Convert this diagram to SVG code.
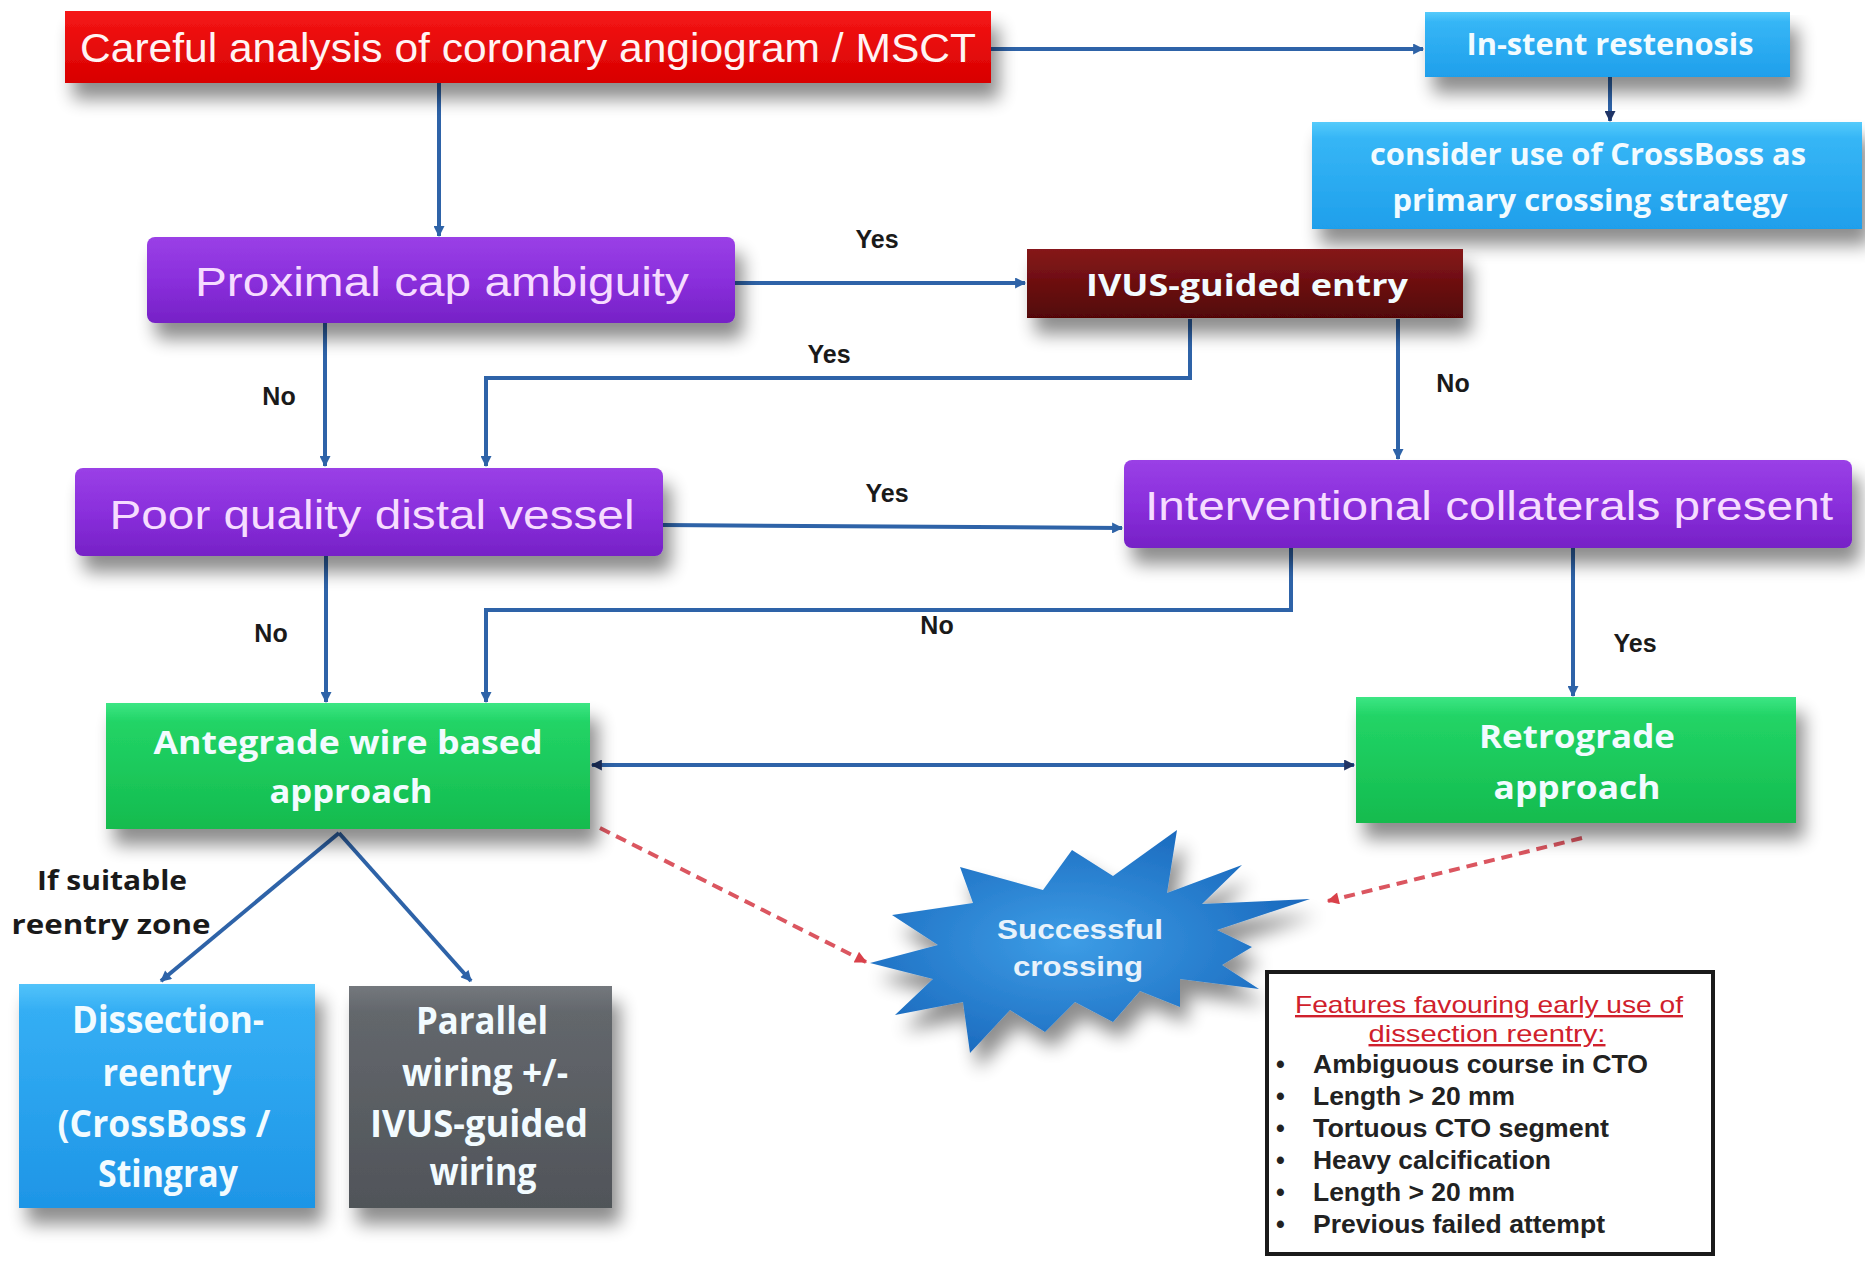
<svg xmlns="http://www.w3.org/2000/svg" width="1865" height="1261" viewBox="0 0 1865 1261">
<defs>
  <filter id="sh" x="-10%" y="-20%" width="130%" height="170%">
    <feGaussianBlur in="SourceAlpha" stdDeviation="9"/>
    <feOffset dx="8" dy="16" result="b"/>
    <feComponentTransfer><feFuncA type="linear" slope="0.45"/></feComponentTransfer>
    <feMerge><feMergeNode/><feMergeNode in="SourceGraphic"/></feMerge>
  </filter>
  <linearGradient id="gRed" x1="0" y1="0" x2="0" y2="1"><stop offset="0" stop-color="#f51616"/><stop offset="1" stop-color="#d80000"/></linearGradient>
  <linearGradient id="gPur" x1="0" y1="0" x2="0" y2="1"><stop offset="0" stop-color="#9a40e6"/><stop offset="0.5" stop-color="#8a2fdc"/><stop offset="1" stop-color="#7621c6"/></linearGradient>
  <linearGradient id="gIvus" x1="0" y1="0" x2="0" y2="1"><stop offset="0" stop-color="#86171a"/><stop offset="1" stop-color="#520606"/></linearGradient>
  <linearGradient id="gBlue" x1="0" y1="0" x2="0" y2="1"><stop offset="0" stop-color="#55cbfb"/><stop offset="0.15" stop-color="#36b6f6"/><stop offset="1" stop-color="#1f9feb"/></linearGradient>
  <linearGradient id="gGreen" x1="0" y1="0" x2="0" y2="1"><stop offset="0" stop-color="#3ce684"/><stop offset="0.15" stop-color="#22d466"/><stop offset="1" stop-color="#14bb4e"/></linearGradient>
  <linearGradient id="gDis" x1="0" y1="0" x2="0" y2="1"><stop offset="0" stop-color="#52c3fa"/><stop offset="0.12" stop-color="#34aef4"/><stop offset="1" stop-color="#1e95e6"/></linearGradient>
  <linearGradient id="gGray" x1="0" y1="0" x2="0" y2="1"><stop offset="0" stop-color="#74787d"/><stop offset="0.12" stop-color="#63676c"/><stop offset="1" stop-color="#505459"/></linearGradient>
  <radialGradient id="gStar" cx="0.45" cy="0.5" r="0.6"><stop offset="0" stop-color="#3d9de6"/><stop offset="1" stop-color="#1866bb"/></radialGradient>
  <marker id="ab" viewBox="0 0 10 10" refX="9" refY="5" markerWidth="13" markerHeight="11" markerUnits="userSpaceOnUse" orient="auto-start-reverse"><path d="M0,0 L10,5 L0,10 z" fill="#2e63a8"/></marker>
  <marker id="an" viewBox="0 0 10 10" refX="9" refY="5" markerWidth="13" markerHeight="11" markerUnits="userSpaceOnUse" orient="auto-start-reverse"><path d="M0,0 L10,5 L0,10 z" fill="#1f3466"/></marker>
  <marker id="ar" viewBox="0 0 10 10" refX="9" refY="5" markerWidth="14" markerHeight="12" markerUnits="userSpaceOnUse" orient="auto"><path d="M0,0 L10,5 L0,10 z" fill="#d9414a"/></marker>
  <style>
    .ar{font-family:"Liberation Sans",Arial,sans-serif;fill:#f6dcff;font-size:41px;text-anchor:middle}
    .wr{font-family:"Liberation Sans",Arial,sans-serif;fill:#fff4f4;font-size:41px;text-anchor:middle}
    .cb{font-family:"Open Sans","Liberation Sans",sans-serif;font-weight:bold;fill:#f2fbff;text-anchor:middle}
    .lbl{font-family:"Liberation Sans",Arial,sans-serif;font-weight:bold;font-size:25px;fill:#1a1a1a;text-anchor:middle}
    .lblc{font-family:"Open Sans","Liberation Sans",sans-serif;font-weight:bold;font-size:26px;fill:#1a1a1a;text-anchor:middle}
    .cn{fill:none;stroke:#2e63a8;stroke-width:4}
    .ft{font-family:"Liberation Sans",Arial,sans-serif;font-weight:bold;font-size:25px;fill:#222}
    .fh{font-family:"Liberation Sans",Arial,sans-serif;font-size:24px;fill:#d0202c;text-anchor:middle;text-decoration:underline}
  </style>
</defs>
<rect width="1865" height="1261" fill="#ffffff"/>

<g id="connectors">
  <line class="cn" x1="991" y1="49" x2="1423" y2="49" stroke-width="5" stroke="#2b5a98" marker-end="url(#ab)"/>
  <line class="cn" x1="1610" y1="77" x2="1610" y2="121" stroke="#243f6e" marker-end="url(#an)"/>
  <line class="cn" x1="439" y1="83" x2="439" y2="236" stroke-width="3" marker-end="url(#ab)"/>
  <line class="cn" x1="735" y1="283" x2="1025" y2="283" marker-end="url(#ab)"/>
  <path class="cn" d="M1190,319 V378 H486 V466" marker-end="url(#ab)"/>
  <line class="cn" x1="1398" y1="319" x2="1398" y2="459" marker-end="url(#ab)"/>
  <line class="cn" x1="325" y1="323" x2="325" y2="466" stroke-width="3" marker-end="url(#ab)"/>
  <line class="cn" x1="663" y1="525" x2="1122" y2="528" stroke-width="3" marker-end="url(#ab)"/>
  <path class="cn" d="M1291,548 V610 H486 V702" marker-end="url(#ab)"/>
  <line class="cn" x1="1573" y1="548" x2="1573" y2="696" stroke="#2a559a" marker-end="url(#ab)"/>
  <line class="cn" x1="326" y1="556" x2="326" y2="702" stroke-width="3" marker-end="url(#ab)"/>
  <line class="cn" x1="592" y1="765" x2="1354" y2="765" stroke="#22386b" stroke-width="3" marker-start="url(#an)" marker-end="url(#an)"/>
  <line class="cn" x1="339" y1="833" x2="161" y2="981" stroke="#3b5894" stroke-width="3" marker-end="url(#ab)"/>
  <line class="cn" x1="339" y1="833" x2="471" y2="981" stroke="#3b5894" stroke-width="3" marker-end="url(#ab)"/>
  <line x1="600" y1="828" x2="866" y2="962" stroke="#db5660" stroke-width="4" stroke-dasharray="11,7" marker-end="url(#ar)"/>
  <line x1="1582" y1="838" x2="1328" y2="901" stroke="#db5660" stroke-width="4" stroke-dasharray="11,7" marker-end="url(#ar)"/>
</g>

<g id="n-careful">
  <rect x="65" y="11" width="926" height="72" fill="url(#gRed)" filter="url(#sh)"/>
  <text class="wr" x="528" y="62" textLength="896" lengthAdjust="spacingAndGlyphs">Careful analysis of coronary angiogram / MSCT</text>
</g>
<g id="n-instent">
  <rect x="1425" y="12" width="365" height="65" fill="url(#gBlue)" filter="url(#sh)"/>
  <text class="cb" x="1610" y="55" font-size="31" textLength="287" lengthAdjust="spacingAndGlyphs">In-stent restenosis</text>
</g>
<g id="n-consider">
  <rect x="1312" y="122" width="550" height="107" fill="url(#gBlue)" filter="url(#sh)"/>
  <text class="cb" x="1588" y="165" font-size="31" textLength="436" lengthAdjust="spacingAndGlyphs">consider use of CrossBoss as</text>
  <text class="cb" x="1590" y="211" font-size="31" textLength="395" lengthAdjust="spacingAndGlyphs">primary crossing strategy</text>
</g>
<g id="n-proximal">
  <rect x="147" y="237" width="588" height="86" rx="8" fill="url(#gPur)" filter="url(#sh)"/>
  <text class="ar" x="442" y="296" textLength="494" lengthAdjust="spacingAndGlyphs">Proximal cap ambiguity</text>
</g>
<g id="n-ivus">
  <rect x="1027" y="249" width="436" height="69" fill="url(#gIvus)" filter="url(#sh)"/>
  <text class="cb" x="1247" y="296" font-size="31" fill="#fff0ee" textLength="322" lengthAdjust="spacingAndGlyphs">IVUS-guided entry</text>
</g>
<g id="n-poor">
  <rect x="75" y="468" width="588" height="88" rx="8" fill="url(#gPur)" filter="url(#sh)"/>
  <text class="ar" x="372" y="529" textLength="525" lengthAdjust="spacingAndGlyphs">Poor quality distal vessel</text>
</g>
<g id="n-interventional">
  <rect x="1124" y="460" width="728" height="88" rx="8" fill="url(#gPur)" filter="url(#sh)"/>
  <text class="ar" x="1489" y="520" textLength="688" lengthAdjust="spacingAndGlyphs">Interventional collaterals present</text>
</g>
<g id="n-antegrade">
  <rect x="106" y="703" width="484" height="126" fill="url(#gGreen)" filter="url(#sh)"/>
  <text class="cb" x="348" y="754" font-size="33" textLength="389" lengthAdjust="spacingAndGlyphs">Antegrade wire based</text>
  <text class="cb" x="351" y="803" font-size="33" textLength="163" lengthAdjust="spacingAndGlyphs">approach</text>
</g>
<g id="n-retrograde">
  <rect x="1356" y="697" width="440" height="126" fill="url(#gGreen)" filter="url(#sh)"/>
  <text class="cb" x="1577" y="748" font-size="33" textLength="196" lengthAdjust="spacingAndGlyphs">Retrograde</text>
  <text class="cb" x="1577" y="799" font-size="33" textLength="167" lengthAdjust="spacingAndGlyphs">approach</text>
</g>
<g id="n-dissection">
  <rect x="19" y="984" width="296" height="224" fill="url(#gDis)" filter="url(#sh)"/>
  <text class="cb" x="168" y="1033" font-size="38" textLength="192" lengthAdjust="spacingAndGlyphs">Dissection-</text>
  <text class="cb" x="167" y="1086" font-size="38" textLength="129" lengthAdjust="spacingAndGlyphs">reentry</text>
  <text class="cb" x="164" y="1137" font-size="38" textLength="213" lengthAdjust="spacingAndGlyphs">(CrossBoss /</text>
  <text class="cb" x="168" y="1187" font-size="38" textLength="140" lengthAdjust="spacingAndGlyphs">Stingray</text>
</g>
<g id="n-parallel">
  <rect x="349" y="986" width="263" height="222" fill="url(#gGray)" filter="url(#sh)"/>
  <text class="cb" x="482" y="1034" font-size="38" textLength="132" lengthAdjust="spacingAndGlyphs">Parallel</text>
  <text class="cb" x="485" y="1086" font-size="38" textLength="166" lengthAdjust="spacingAndGlyphs">wiring +/-</text>
  <text class="cb" x="479" y="1137" font-size="38" textLength="218" lengthAdjust="spacingAndGlyphs">IVUS-guided</text>
  <text class="cb" x="483" y="1185" font-size="38" textLength="107" lengthAdjust="spacingAndGlyphs">wiring</text>
</g>
<g id="n-success">
  <polygon points="1072,850 1113,876 1177,830 1167,893 1242,865 1202,904 1310,899 1217,930 1252,947 1222,965 1259,989 1180,979 1180,1007 1140,991 1113,1022 1075,1002 1045,1032 1010,1010 970,1053 963,1002 895,1015 933,979 870,963 938,945 892,915 973,903 960,867 1043,890" fill="url(#gStar)" filter="url(#sh)"/>
  <text x="1080" y="939" font-family="Liberation Sans, Arial, sans-serif" font-weight="bold" font-size="28" fill="#e8f2fb" text-anchor="middle" textLength="166" lengthAdjust="spacingAndGlyphs">Successful</text>
  <text x="1078" y="976" font-family="Liberation Sans, Arial, sans-serif" font-weight="bold" font-size="28" fill="#e8f2fb" text-anchor="middle" textLength="130" lengthAdjust="spacingAndGlyphs">crossing</text>
</g>
<g id="n-features">
  <rect x="1267" y="972" width="446" height="282" fill="#ffffff" stroke="#1a1a1a" stroke-width="4"/>
  <text class="fh" x="1489" y="1013" textLength="388" lengthAdjust="spacingAndGlyphs">Features favouring early use of</text>
  <text class="fh" x="1487" y="1042" textLength="237" lengthAdjust="spacingAndGlyphs">dissection reentry:</text>
  <g class="ft">
    <text x="1276" y="1073">•</text><text x="1313" y="1073" textLength="335" lengthAdjust="spacingAndGlyphs">Ambiguous course in CTO</text>
    <text x="1276" y="1105">•</text><text x="1313" y="1105" textLength="202" lengthAdjust="spacingAndGlyphs">Length &gt; 20 mm</text>
    <text x="1276" y="1137">•</text><text x="1313" y="1137" textLength="296" lengthAdjust="spacingAndGlyphs">Tortuous CTO segment</text>
    <text x="1276" y="1169">•</text><text x="1313" y="1169" textLength="238" lengthAdjust="spacingAndGlyphs">Heavy calcification</text>
    <text x="1276" y="1201">•</text><text x="1313" y="1201" textLength="202" lengthAdjust="spacingAndGlyphs">Length &gt; 20 mm</text>
    <text x="1276" y="1233">•</text><text x="1313" y="1233" textLength="292" lengthAdjust="spacingAndGlyphs">Previous failed attempt</text>
  </g>
</g>

<g id="labels">
  <text class="lbl" x="877" y="248">Yes</text>
  <text class="lbl" x="829" y="363">Yes</text>
  <text class="lbl" x="279" y="405">No</text>
  <text class="lbl" x="1453" y="392">No</text>
  <text class="lbl" x="887" y="502">Yes</text>
  <text class="lbl" x="271" y="642">No</text>
  <text class="lbl" x="937" y="634">No</text>
  <text class="lbl" x="1635" y="652">Yes</text>
  <text class="lblc" x="112" y="890" textLength="150" lengthAdjust="spacingAndGlyphs">If suitable</text>
  <text class="lblc" x="111" y="934" textLength="199" lengthAdjust="spacingAndGlyphs">reentry zone</text>
</g>
</svg>
